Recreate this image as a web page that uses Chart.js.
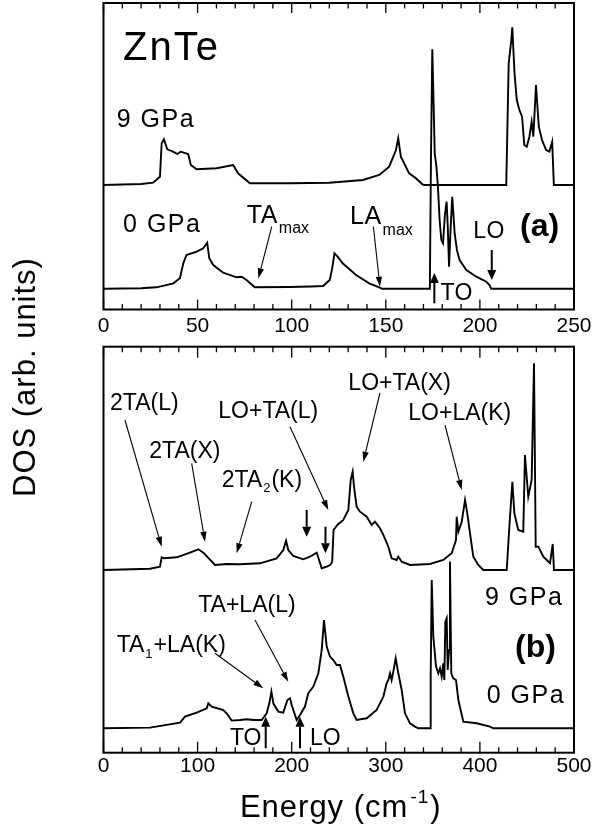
<!DOCTYPE html>
<html>
<head>
<meta charset="utf-8">
<script src="https://cdn.jsdelivr.net/npm/chart.js@4.4.1/dist/chart.umd.min.js"></script>
<style>
  html, body { margin: 0; padding: 0; background: #fff; }
  #wrap { position: relative; width: 592px; height: 824px; overflow: hidden; background: #fff; }
  #wrap canvas { position: absolute; left: 0; }
  #ylab {
    position: absolute; left: 25px; top: 377px;
    transform: translate(-50%, -50%) rotate(-90deg);
    font: 31px "Liberation Sans", Arial, Helvetica, sans-serif;
    letter-spacing: 1px; white-space: nowrap; color: #000;
  }
</style>
</head>
<body>
<div id="wrap">
  <canvas id="ca" width="592" height="340" style="top:0px"></canvas>
  <canvas id="cb" width="592" height="484" style="top:340px"></canvas>
  <div id="ylab">DOS (arb. units)</div>
</div>
<script>
// ---------------- DATA ----------------
// Tick labels of the energy axes (cm^-1)
const ticksA = [0, 50, 100, 150, 200, 250];
const ticksB = [0, 100, 200, 300, 400, 500];

// Panel (a): one-phonon DOS, [energy (cm^-1), DOS (arb. units)]
const dosA_0GPa = [
  [0,0],[20,0.5],[28.2,1.4],[37.1,5.4],[40.6,10.4],[42.4,25.4],[44.1,33.7],[49.5,37],[53,40.4],
  [55.1,46],[56.2,30.4],[58.3,23.7],[63.6,16],[70.7,11.4],[73.4,12],[76,8.7],[80.4,1.4],[99,1.7],
  [110,2.2],[116.7,2.7],[120.2,8.7],[121.5,20],[122.7,35.4],[124.4,32],[127.1,25.4],[134.2,13.7],
  [141.2,5.4],[146.5,1.4],[148,0],[173.4,0],[174.0,130],[174.7,239.4],[175.4,185.4],[176,135.4],
  [176.9,122],[177.7,102],[178.6,68.7],[179.5,48.7],[180.4,45.4],[181.4,73.7],[182.3,87],
  [182.9,63.7],[183.6,22],[184.4,58.7],[185.3,92],[186.6,55.4],[187.8,38.7],[189.2,28.7],
  [192.8,18.7],[198.1,12],[203.4,7],[205.1,3.7],[206,0],[250,0]
];
const dosA_9GPa = [
  [0,0],[20,1],[26.4,2.3],[30,8.3],[30.9,41.7],[32.1,45.7],[33.9,35.7],[37,33.3],[39.2,31],
  [41,33.3],[45,31],[46.4,20],[49.5,15.7],[60.1,16.7],[68.9,20],[71.5,11.7],[77.8,1.7],[99,1.7],
  [120,2.3],[137.9,5],[146.5,10],[151.8,18.3],[155.4,35],[156.6,46.7],[158,28.3],[162.4,11.7],
  [166,6.7],[169.5,0.7],[170.5,0],[214,0],[215.3,121.7],[216.7,145],[217.2,157.7],[218.4,111.7],
  [219.6,85],[221,75],[222.4,68.3],[223.6,40],[224.9,38.3],[226.3,48.3],[227.5,63.3],[228.4,48.3],
  [229.8,100],[231.3,58.3],[233,45],[235.2,35],[236.9,33.3],[238.4,43.3],[239.3,0],[250,0]
];

// Panel (b): two-phonon DOS, [energy (cm^-1), DOS (arb. units)]
const dosB_0GPa = [
  [0,0],[49.4,0.7],[81.3,5.7],[86.6,11.7],[99,15.7],[109.7,20],[111.4,25],[115,21.7],[127.3,18.3],
  [130.9,15],[136.2,7.7],[145.1,8.3],[152.2,9],[159.2,8.3],[168.1,8.3],[173.4,15],[176.2,25],
  [178.4,36.7],[180.5,25],[185.8,16.7],[191.1,15.7],[195.4,28.3],[198.2,30],[200,23.3],[205.3,8.3],
  [208.8,13.3],[214.1,21.7],[217.6,35],[223,41.7],[228.3,55],[231.9,78.3],[234.3,108.3],[237.2,81.7],
  [240.7,71.7],[244.2,68.3],[247.8,63.3],[251.3,63.3],[254.8,51.7],[260.2,31.7],[265.5,15],[269,8.3],
  [279.7,10],[290.3,18.3],[297.4,31.7],[300.9,45],[302.7,48.3],[304.5,55],[306.2,48.3],[308,56.7],
  [310.5,70],[313.3,55],[316.9,38.3],[320.4,15],[325.7,5],[331,1.7],[334.5,0],[347,0],[347.7,51.7],
  [348.8,148.3],[350.5,91.7],[353.4,61.7],[355.8,55],[357.6,60],[359.4,51.7],[361.1,65],[362.2,48.3],
  [363.3,106.7],[364.7,110],[365.8,58.3],[367.2,78.3],[368.2,166.7],[369.6,55],[371.7,50],[374.6,48.3],
  [377.1,28.3],[382.4,6.7],[396.6,5],[410.7,1.7],[414.2,0],[500,0]
];
const dosB_9GPa = [
  [0,0],[49.4,1.3],[60,3.3],[61.8,12.7],[64.3,11.7],[77.8,12.7],[91.9,17.3],[100.8,20.7],[106.1,17.3],
  [118.5,5],[130.9,6],[145.1,5.7],[166.3,6.7],[184,11.7],[191.1,20],[194,29.3],[196.4,20],[201.7,14],
  [212.3,10.7],[219.4,13.3],[226.6,17.3],[231.9,1.7],[236,3],[241,5],[243,8],[244.5,40],[248.5,45],
  [254.8,50],[260.2,60],[262.7,90],[264.8,98.3],[266.2,83.3],[269,63.3],[272.6,58.3],[279.7,53.3],
  [285,45],[288.5,48.3],[293.8,41.7],[297.4,35],[302.7,23.3],[306.2,11.7],[311.6,10],[313.3,13.3],
  [316.9,8.3],[325.7,5],[347,6],[361.1,10],[370,16.7],[374.6,30],[375.3,53.3],[377.1,38.3],
  [380.7,48.3],[384.2,70],[386.6,56.7],[389.5,36.7],[393,13.3],[398.3,5],[403.6,0],[428.5,0],
  [431.3,43.3],[434.5,88.3],[436.6,56.7],[440.8,40],[446.1,38.3],[447.9,115],[451.4,73.3],[455,90],
  [457.5,206.7],[459.3,23.3],[462.1,23.3],[467.4,13.3],[474.5,6.7],[477.4,26],[478.7,0],[500,0]
];

// ---------------- PRESENTATION ----------------
const FONT = '"Liberation Sans", Arial, Helvetica, sans-serif';
const offsetA = { p0: 20.8, p9: 124.5 };   // vertical stacking offsets (arb. units)
const offsetB = { p0: 24.4, p9: 182.7 };

// annotations in data coordinates (energy, arb. units)
const notesA = [
  { t: 'ZnTe', x: 10.4, y: 249.5, size: 40, ls: 2 },
  { t: '9 GPa', x: 7.0, y: 182.8, size: 25, ls: 1.5 },
  { t: '0 GPa', x: 10.4, y: 77.5, size: 25, ls: 1.5 },
  { t: 'TA', sub: 'max', subSize: 16, subDy: 10.6, x: 76.1, y: 86.8, size: 25, ls: 0.5 },
  { a: [89.4, 82.8, 82.3, 31.2] },
  { t: 'LA', sub: 'max', subSize: 16, subDy: 10.6, x: 131, y: 85.5, size: 25, ls: 0.5 },
  { a: [143.4, 82.8, 146.9, 22.8] },
  { t: 'LO', x: 196.5, y: 71.2, size: 23, ls: 0.5 },
  { a: [206.3, 59.5, 206.3, 29.5], thick: true },
  { t: '(a)', x: 221.3, y: 73.2, size: 32, bold: true },
  { t: 'TO', x: 179, y: 9.5, size: 23, ls: 0.5 },
  { a: [175.8, 6.2, 175.8, 36.5], thick: true }
];
const notesB = [
  { t: '2TA(L)', x: 6.9, y: 342.7, size: 23 },
  { a: [22.8, 332.7, 61.8, 206] },
  { t: '2TA(X)', x: 48.7, y: 294.4, size: 23 },
  { a: [93.7, 289.4, 107.9, 211] },
  { t: '2TA', sub: '2', after: '(K)', subSize: 13, subDy: 5, x: 125.6, y: 266, size: 23 },
  { a: [157.5, 251, 141.5, 199.4] },
  { t: 'LO+TA(L)', x: 122, y: 334.4, size: 23 },
  { a: [198.2, 326, 238.9, 242.7] },
  { a: [215.9, 242.7, 215.9, 216], thick: true },
  { a: [235.9, 226, 235.9, 199.4], thick: true },
  { t: 'LO+TA(X)', x: 260.2, y: 362.7, size: 23 },
  { a: [293.8, 359.7, 276.1, 291] },
  { t: 'LO+LA(K)', x: 323.9, y: 332.7, size: 23 },
  { a: [362.9, 327.7, 380.7, 262.7] },
  { t: '9 GPa', x: 405.4, y: 147.7, size: 25, ls: 1.5 },
  { t: '(b)', x: 437.3, y: 95.7, size: 32, bold: true },
  { t: '0 GPa', x: 407.2, y: 49.4, size: 25, ls: 1.5 },
  { t: 'TA+LA(L)', x: 100.7, y: 141, size: 23 },
  { a: [161, 132.7, 196.4, 71] },
  { t: 'TA', sub: '1', after: '+LA(K)', subSize: 13, subDy: 6, x: 14, y: 101, size: 23 },
  { a: [118.5, 99.4, 169.8, 64.4] },
  { t: 'TO', x: 134.4, y: 7.7, size: 23 },
  { a: [172.4, 4.4, 172.4, 36], thick: true },
  { t: 'LO', x: 219.4, y: 7.7, size: 23 },
  { a: [208.8, 4.4, 208.8, 36], thick: true }
];

function drawArrow(ctx, x1, y1, x2, y2, thick) {
  const ang = Math.atan2(y2 - y1, x2 - x1);
  const hl = 10, hw = thick ? 4.5 : 3.2;
  const bx = x2 - hl * Math.cos(ang), by = y2 - hl * Math.sin(ang);
  ctx.lineWidth = thick ? 2 : 1.1;
  ctx.beginPath(); ctx.moveTo(x1, y1); ctx.lineTo(bx, by); ctx.stroke();
  ctx.beginPath();
  ctx.moveTo(x2, y2);
  ctx.lineTo(bx + hw * Math.sin(ang), by - hw * Math.cos(ang));
  ctx.lineTo(bx - hw * Math.sin(ang), by + hw * Math.cos(ang));
  ctx.closePath(); ctx.fill();
}

function decorPlugin(notes, majorTicks, minorStep, majLen, minLen, extra) {
  return {
    id: 'decor',
    afterDraw(chart) {
      const ctx = chart.ctx, xs = chart.scales.x, ys = chart.scales.y, ca = chart.chartArea;
      ctx.save();
      ctx.strokeStyle = '#000'; ctx.fillStyle = '#000';
      // inward ticks, bottom and top
      ctx.lineWidth = 1.3;
      for (let v = xs.min; v <= xs.max + 1e-9; v += minorStep) {
        const px = xs.getPixelForValue(v);
        const len = majorTicks.includes(Math.round(v)) ? majLen : minLen;
        ctx.beginPath();
        ctx.moveTo(px, ca.bottom); ctx.lineTo(px, ca.bottom - len);
        ctx.moveTo(px, ca.top); ctx.lineTo(px, ca.top + len);
        ctx.stroke();
      }
      // frame
      ctx.lineWidth = 2;
      ctx.strokeRect(ca.left, ca.top, ca.right - ca.left, ca.bottom - ca.top);
      // annotations
      ctx.textAlign = 'left'; ctx.textBaseline = 'alphabetic';
      for (const n of notes) {
        if (n.a) {
          drawArrow(ctx, xs.getPixelForValue(n.a[0]), ys.getPixelForValue(n.a[1]),
                    xs.getPixelForValue(n.a[2]), ys.getPixelForValue(n.a[3]), n.thick);
          continue;
        }
        let px = xs.getPixelForValue(n.x), py = ys.getPixelForValue(n.y);
        const mainFont = (n.bold ? 'bold ' : '') + n.size + 'px ' + FONT;
        ctx.font = mainFont;
        ctx.letterSpacing = (n.ls || 0) + 'px';
        ctx.fillText(n.t, px, py);
        px += ctx.measureText(n.t).width;
        if (n.sub) {
          ctx.font = n.subSize + 'px ' + FONT;
          ctx.letterSpacing = '0px';
          ctx.fillText(n.sub, px + 1, py + n.subDy);
          px += ctx.measureText(n.sub).width + 2;
        }
        if (n.after) {
          ctx.font = mainFont;
          ctx.letterSpacing = (n.ls || 0) + 'px';
          ctx.fillText(n.after, px, py);
        }
      }
      ctx.letterSpacing = '0px';
      if (extra) extra(chart, ctx);
      ctx.restore();
    }
  };
}

function makeChart(id, cfg) {
  const datasets = cfg.series.map(s => ({
    data: s.pts.map(p => ({ x: p[0], y: p[1] + s.off })),
    borderColor: '#000', borderWidth: 1.9, pointRadius: 0, tension: 0, fill: false
  }));
  return new Chart(document.getElementById(id), {
    type: 'line',
    data: { datasets },
    options: {
      responsive: false, animation: false, events: [],
      layout: { padding: { left: 103.5, right: 18, top: cfg.top, bottom: 0 } },
      plugins: { legend: { display: false }, tooltip: { enabled: false }, title: { display: false } },
      scales: {
        x: {
          type: 'linear', min: cfg.min, max: cfg.max,
          grid: { display: false, drawTicks: false },
          border: { display: false },
          ticks: {
            color: '#000', padding: cfg.labelPad, maxRotation: 0,
            font: { family: FONT, size: 21 },
            callback: v => String(v)
          },
          afterBuildTicks: sc => { sc.ticks = cfg.ticks.map(v => ({ value: v })); },
          afterFit: sc => { sc.height = cfg.axisH; sc.paddingLeft = 0; sc.paddingRight = 0; }
        },
        y: { display: false, min: 0, max: cfg.ymax }
      }
    },
    plugins: [decorPlugin(cfg.notes, cfg.ticks, cfg.minor, cfg.majLen, cfg.minLen, cfg.extra)]
  });
}

makeChart('ca', {
  series: [{ pts: dosA_0GPa, off: offsetA.p0 }, { pts: dosA_9GPa, off: offsetA.p9 }],
  min: 0, max: 250, ticks: ticksA, minor: 10, majLen: 10, minLen: 5.5,
  ymax: 306.5, top: 3, axisH: 30.5, labelPad: 4.5, notes: notesA
});

makeChart('cb', {
  series: [{ pts: dosB_0GPa, off: offsetB.p0 }, { pts: dosB_9GPa, off: offsetB.p9 }],
  min: 0, max: 500, ticks: ticksB, minor: 20, majLen: 11, minLen: 5.5,
  ymax: 406, top: 6.7, axisH: 71.3, labelPad: 1.2, notes: notesB,
  extra: (chart, ctx) => {
    // axis title: Energy (cm^-1)
    const ca = chart.chartArea;
    const cx = (ca.left + ca.right) / 2 + 2, base = 476.7;
    ctx.letterSpacing = '1px';
    ctx.font = '31px ' + FONT;
    const p1 = 'Energy (cm', p3 = ')';
    const w1 = ctx.measureText(p1).width, w3 = ctx.measureText(p3).width;
    ctx.font = '19px ' + FONT;
    const w2 = ctx.measureText('-1').width + 3;
    let x = cx - (w1 + w2 + w3) / 2;
    ctx.font = '31px ' + FONT;
    ctx.fillText(p1, x, base);
    x += w1 + 2;
    ctx.font = '19px ' + FONT;
    ctx.fillText('-1', x, base - 13.7);
    x += w2 - 2;
    ctx.font = '31px ' + FONT;
    ctx.fillText(p3, x, base);
    ctx.letterSpacing = '0px';
  }
});
</script>
</body>
</html>
